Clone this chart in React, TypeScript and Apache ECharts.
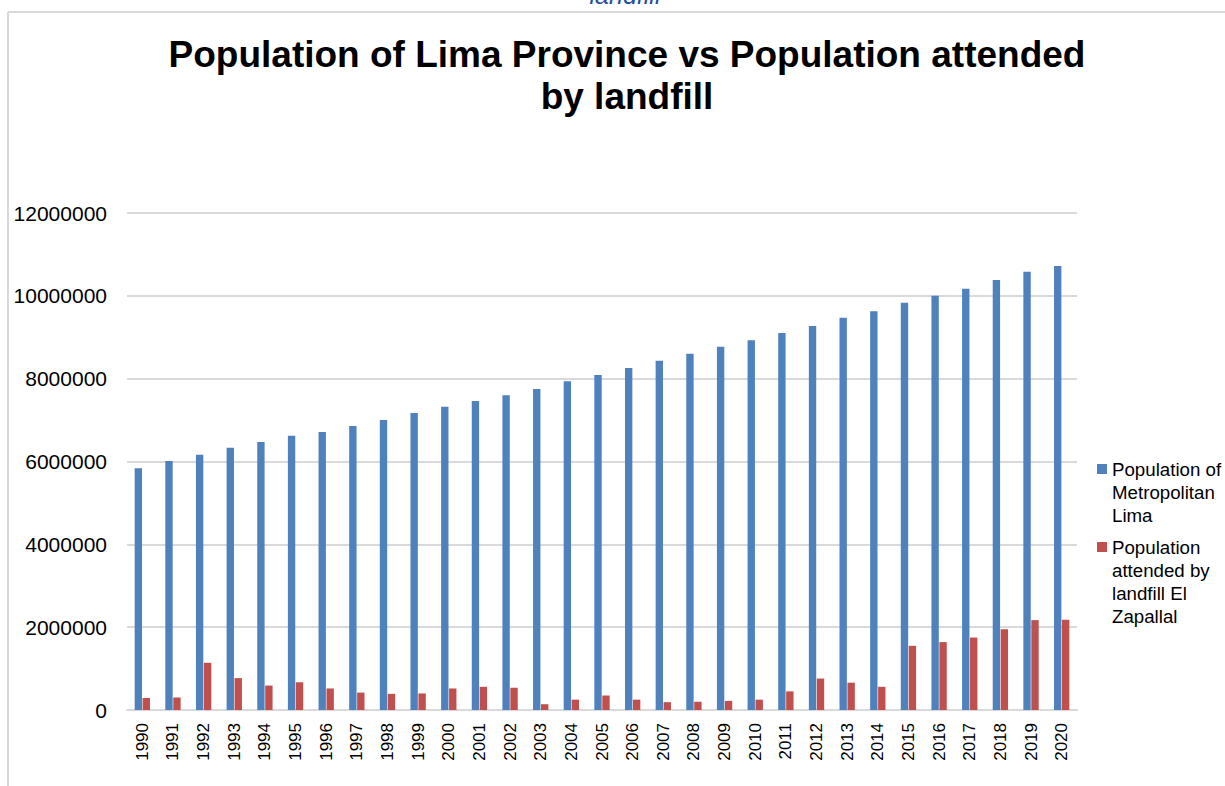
import React, { useEffect, useRef } from "react";
import * as echarts from "echarts";

const years = [
  "1990", "1991", "1992", "1993", "1994", "1995", "1996", "1997", "1998", "1999",
  "2000", "2001", "2002", "2003", "2004", "2005", "2006", "2007", "2008", "2009",
  "2010", "2011", "2012", "2013", "2014", "2015", "2016", "2017", "2018", "2019", "2020",
];

const populationLima = [
  5840000, 6010000, 6160000, 6330000, 6470000, 6620000, 6710000, 6860000, 7000000, 7170000,
  7320000, 7460000, 7600000, 7750000, 7940000, 8090000, 8260000, 8430000, 8600000, 8770000,
  8930000, 9100000, 9270000, 9470000, 9630000, 9830000, 10000000, 10170000, 10380000, 10580000, 10720000,
];

const populationLandfill = [
  290000, 300000, 1140000, 770000, 590000, 670000, 520000, 420000, 390000, 400000,
  520000, 560000, 540000, 140000, 250000, 350000, 250000, 190000, 200000, 220000,
  250000, 450000, 760000, 660000, 560000, 1550000, 1640000, 1750000, 1950000, 2170000, 2180000,
];

const seriesNames = [
  "Population of\nMetropolitan\nLima",
  "Population\nattended by\nlandfill El\nZapallal",
];

const yTicks = { min: 0, max: 12000000, interval: 2000000 };

export default function App() {
  const ref = useRef<HTMLDivElement>(null);

  useEffect(() => {
    if (!ref.current) return;
    const chart = echarts.init(ref.current, null, { renderer: "svg" });
    const lh = 23;
    const font = "Arial, Liberation Sans, sans-serif";
    const legendText = { fontFamily: font, fontSize: 18.7, color: "#000", lineHeight: lh };
    const padTop = (name: string) => {
      const n = name.split("\n").length;
      return "\n".repeat(n - 1) + name;
    };
    const legendBase = {
      orient: "vertical",
      left: 1097,
      padding: 0,
      itemWidth: 10,
      itemHeight: 10,
      icon: "rect",
      formatter: padTop,
      textStyle: legendText,
    };
    chart.setOption({
      animation: false,
      backgroundColor: "#fff",
      title: {
        text: "Population of Lima Province vs Population attended\nby landfill",
        left: 622,
        textAlign: "center",
        top: 28,
        textStyle: {
          fontFamily: font,
          fontSize: 37,
          fontWeight: "bold",
          color: "#000",
          lineHeight: 42,
        },
      },
      graphic: [
        {
          type: "line",
          shape: { x1: 8, y1: 12, x2: 1225, y2: 12 },
          style: { stroke: "#D9D9D9", lineWidth: 2 },
        },
        {
          type: "line",
          shape: { x1: 8, y1: 12, x2: 8, y2: 786 },
          style: { stroke: "#D9D9D9", lineWidth: 2 },
        },
        {
          type: "text",
          x: 625,
          y: -18,
          style: {
            text: "landfill",
            align: "center",
            fill: "#1F4E9A",
            font: "italic 25px Arial, Liberation Sans, sans-serif",
          },
        },
      ],
      legend: [
        { ...legendBase, top: 469 - 5 - 2.5 * lh + 5, data: [seriesNames[0]] },
        { ...legendBase, top: 547 - 5 - 3.5 * lh + 5, data: [seriesNames[1]] },
      ],
      grid: { left: 127, right: 148, top: 213, bottom: 76, containLabel: false },
      xAxis: {
        type: "category",
        data: years,
        axisLine: { lineStyle: { color: "#D9D9D9", width: 2 } },
        axisTick: { show: false },
        axisLabel: {
          rotate: 90,
          margin: 13,
          fontFamily: font,
          fontSize: 17,
          color: "#000",
          interval: 0,
        },
      },
      yAxis: {
        type: "value",
        min: yTicks.min,
        max: yTicks.max,
        interval: yTicks.interval,
        axisLine: { show: false },
        axisTick: { show: false },
        splitLine: { lineStyle: { color: "#D9D9D9", width: 2 } },
        axisLabel: {
          margin: 20,
          fontFamily: font,
          fontSize: 21,
          color: "#000",
          formatter: (v: number) => String(v),
        },
      },
      series: [
        {
          name: seriesNames[0],
          type: "bar",
          data: populationLima,
          itemStyle: { color: "#4F81BD" },
          barCategoryGap: "50%",
          barGap: "8%",
        },
        {
          name: seriesNames[1],
          type: "bar",
          data: populationLandfill,
          itemStyle: { color: "#C0504D" },
          barCategoryGap: "50%",
          barGap: "8%",
        },
      ],
    });
    return () => chart.dispose();
  }, []);

  return (
    <div
      ref={ref}
      style={{ position: "fixed", left: 0, top: 0, width: 1225, height: 786 }}
    />
  );
}
